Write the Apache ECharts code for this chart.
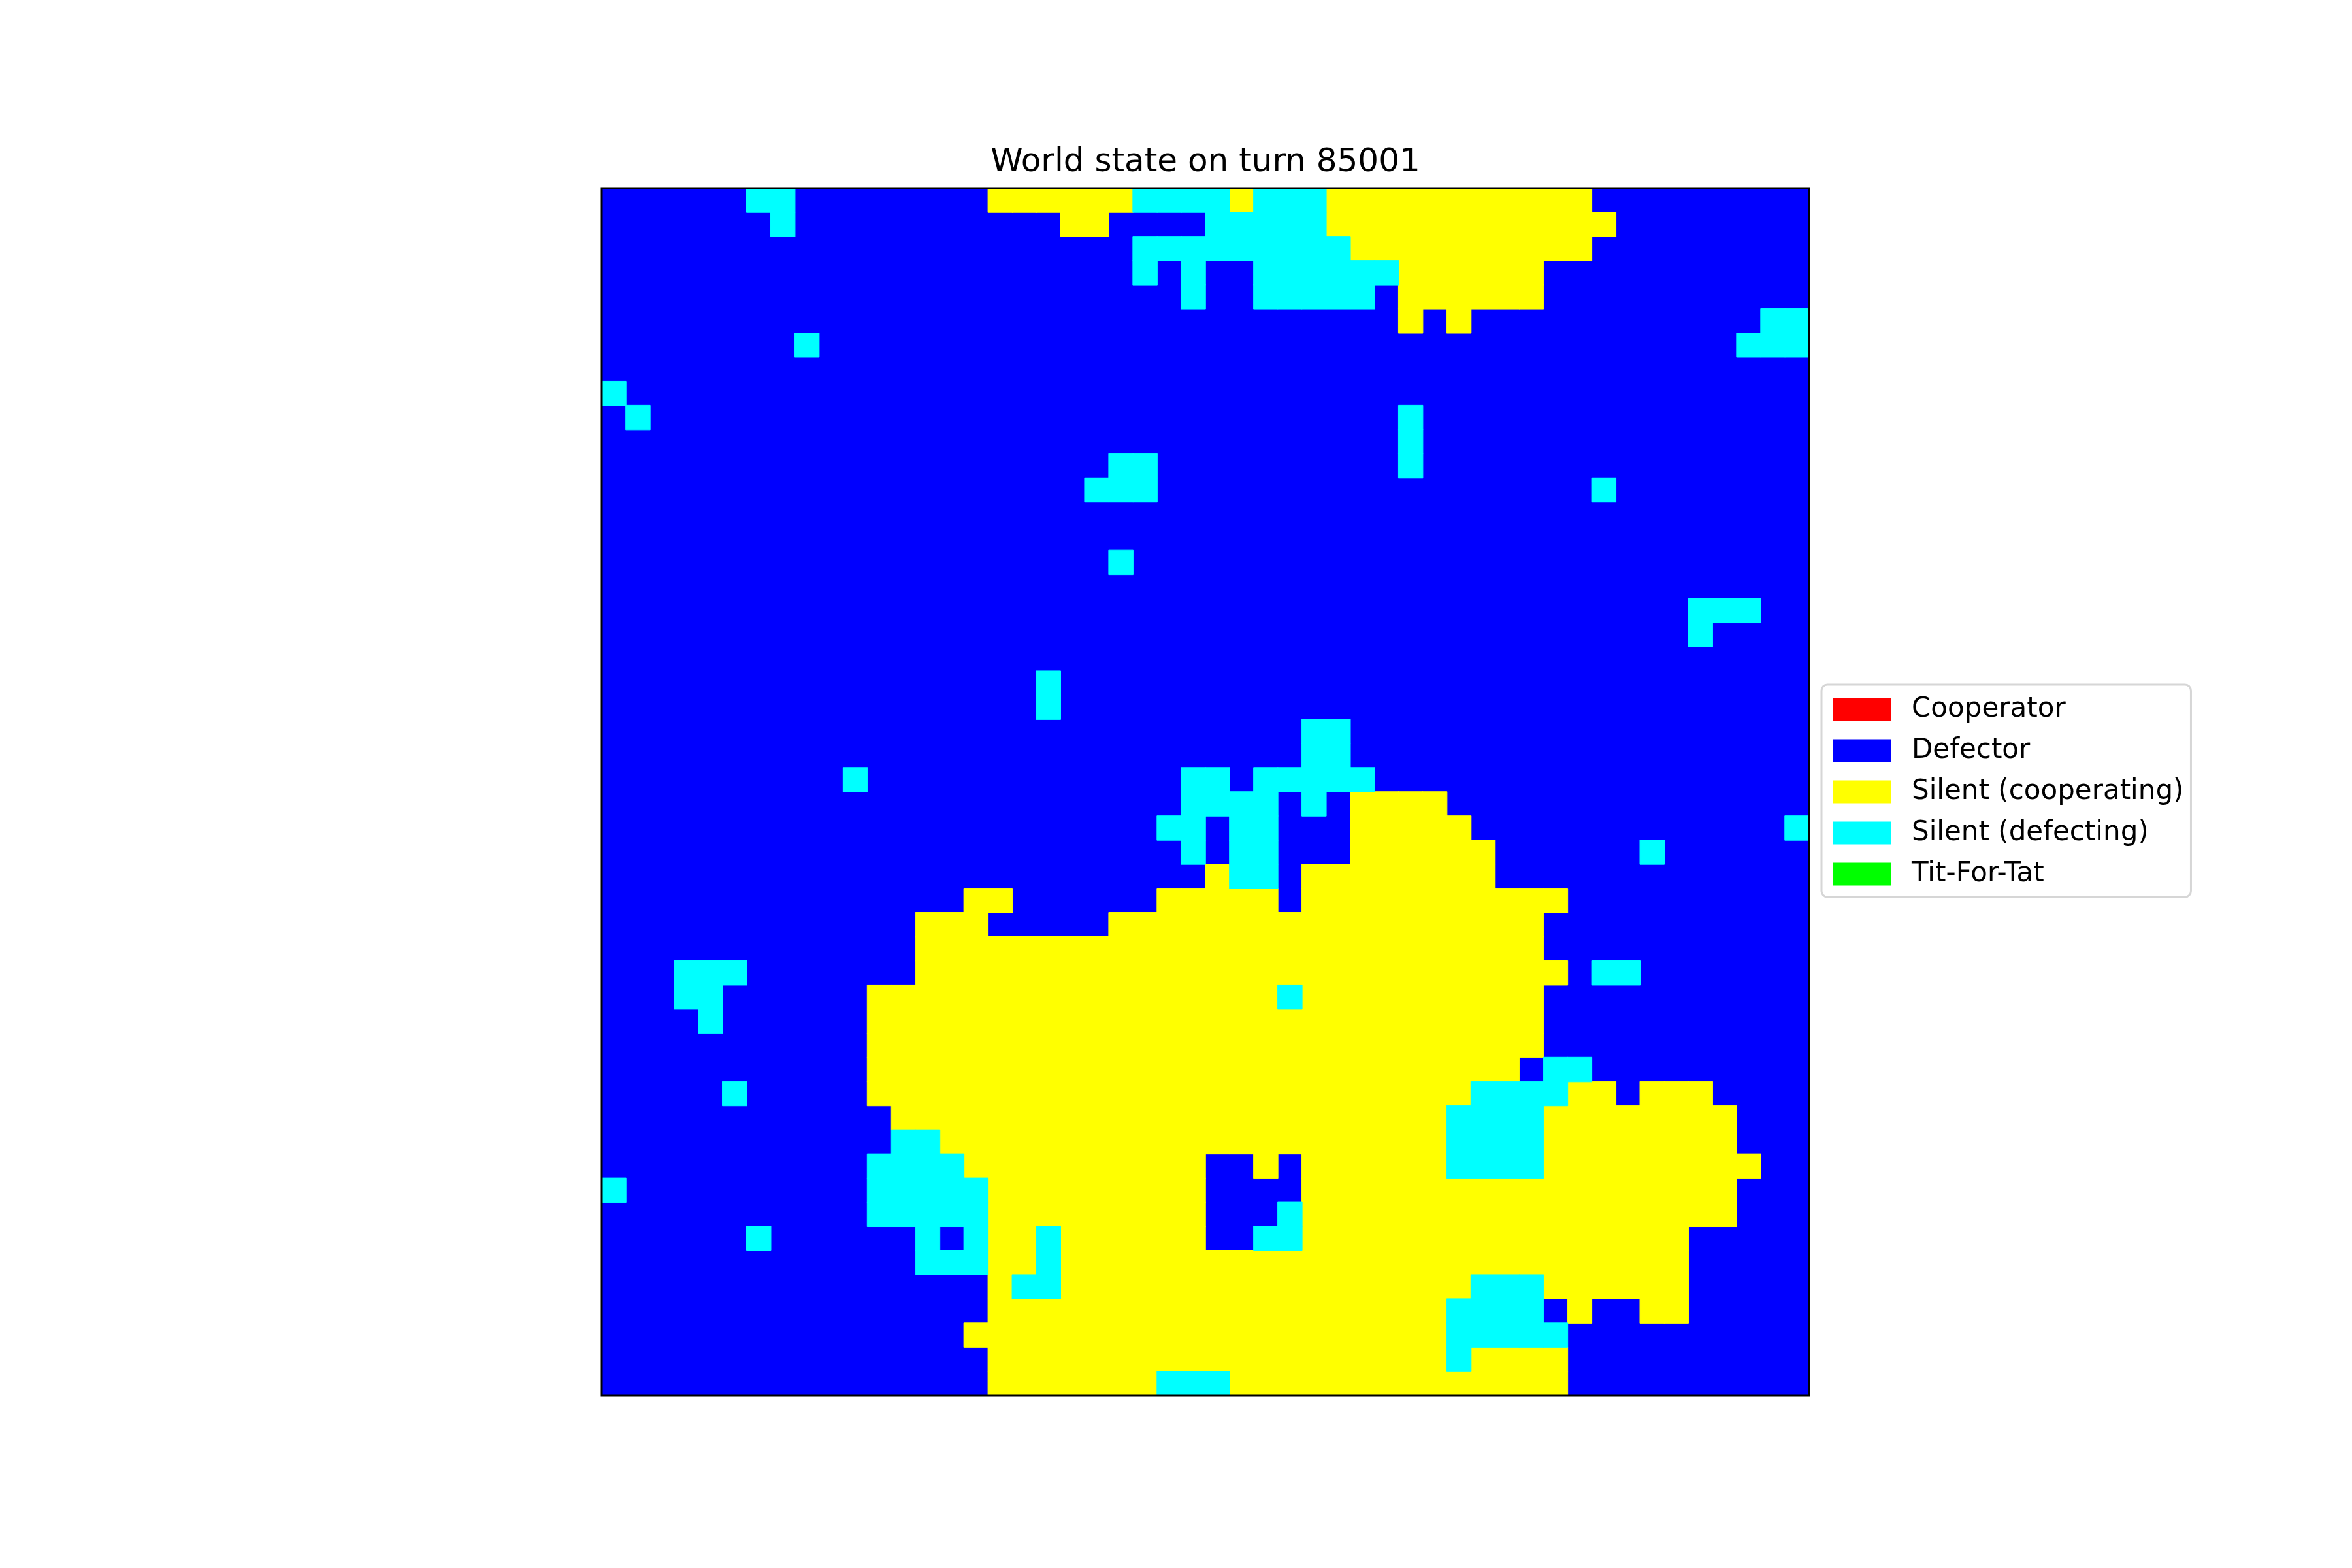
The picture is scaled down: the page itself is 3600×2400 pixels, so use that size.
<!DOCTYPE html>
<html>
<head>
<meta charset="utf-8">
<script src="https://cdn.jsdelivr.net/npm/echarts@6/dist/echarts.min.js"></script>
<style>
html,body{margin:0;padding:0;background:#fff;}
#chart{width:3600px;height:2400px;}
</style>
</head>
<body>
<div id="chart"></div>
<script>
// States (legend order)
const stateNames = ['Cooperator', 'Defector', 'Silent (cooperating)', 'Silent (defecting)', 'Tit-For-Tat'];
const stateColors = ['#ff0000', '#0000ff', '#ffff00', '#00ffff', '#00ff00'];
const gridSize = 50;
const defaultState = 1; // Defector fills everything not listed below

// Runs of Silent (cooperating) cells: [row, firstCol, lastCol]
const yellowRuns = [
  [0,16,21],[0,26,26],[0,30,40],
  [1,19,20],[1,30,41],
  [2,31,40],
  [3,33,38],
  [4,33,38],
  [5,33,33],[5,35,35],
  [25,31,34],
  [26,31,35],
  [27,31,36],
  [28,25,25],[28,29,36],
  [29,15,16],[29,23,27],[29,29,39],
  [30,13,15],[30,21,38],
  [31,13,38],
  [32,13,39],
  [33,11,27],[33,29,38],
  [34,11,38],
  [35,11,38],
  [36,11,37],
  [37,11,35],[37,40,41],[37,43,45],
  [38,12,34],[38,39,46],
  [39,14,34],[39,39,46],
  [40,15,24],[40,27,27],[40,29,34],[40,39,47],
  [41,16,24],[41,29,46],
  [42,16,24],[42,29,46],
  [43,16,17],[43,19,24],[43,29,44],
  [44,16,17],[44,19,44],
  [45,16,16],[45,19,35],[45,39,44],
  [46,16,34],[46,40,40],[46,43,44],
  [47,15,34],
  [48,16,34],[48,36,39],
  [49,16,22],[49,26,39]
];

// Runs of Silent (defecting) cells: [row, firstCol, lastCol]
const cyanRuns = [
  [0,6,7],[0,22,25],[0,27,29],
  [1,7,7],[1,25,29],
  [2,22,30],
  [3,22,22],[3,24,24],[3,27,32],
  [4,24,24],[4,27,31],
  [5,48,49],
  [6,8,8],[6,47,49],
  [8,0,0],
  [9,1,1],[9,33,33],
  [10,33,33],
  [11,21,22],[11,33,33],
  [12,20,22],[12,41,41],
  [15,21,21],
  [17,45,47],
  [18,45,45],
  [20,18,18],
  [21,18,18],
  [22,29,30],
  [23,29,30],
  [24,10,10],[24,24,25],[24,27,31],
  [25,24,27],[25,29,29],
  [26,23,24],[26,26,27],[26,49,49],
  [27,24,24],[27,26,27],[27,43,43],
  [28,26,27],
  [32,3,5],[32,41,42],
  [33,3,4],[33,28,28],
  [34,4,4],
  [36,39,40],
  [37,5,5],[37,36,39],
  [38,35,38],
  [39,12,13],[39,35,38],
  [40,11,14],[40,35,38],
  [41,0,0],[41,11,15],
  [42,11,15],[42,28,28],
  [43,6,6],[43,13,13],[43,15,15],[43,18,18],[43,27,28],
  [44,13,15],[44,18,18],
  [45,17,18],[45,36,38],
  [46,35,38],
  [47,35,39],
  [48,35,35],
  [49,23,25]
];

const titleText = 'World state on turn 85001';

// Build the world grid
const world = [];
for (let r = 0; r < gridSize; r++) {
  world.push(new Array(gridSize).fill(defaultState));
}
function applyRuns(runs, state) {
  runs.forEach(([r, c0, c1]) => {
    for (let c = c0; c <= c1; c++) world[r][c] = state;
  });
}
applyRuns(yellowRuns, 2);
applyRuns(cyanRuns, 3);

const idx = [];
for (let i = 0; i < gridSize; i++) idx.push(String(i));

const seriesData = stateNames.map(() => []);
for (let r = 0; r < gridSize; r++) {
  for (let c = 0; c < gridSize; c++) {
    seriesData[world[r][c]].push([c, r, world[r][c]]);
  }
}

const FONT = 'DejaVu Sans';
const chart = echarts.init(document.getElementById('chart'), null, {renderer: 'canvas'});

const option = {
  animation: false,
  backgroundColor: '#ffffff',
  title: {
    text: titleText,
    left: 1845,
    textAlign: 'center',
    top: 224,
    padding: 0,
    textStyle: {fontFamily: FONT, fontSize: 50, fontWeight: 'normal', color: '#000'}
  },
  grid: {
    left: 921, top: 288, width: 1848, height: 1848,
    show: true, borderColor: '#000', borderWidth: 3,
    backgroundColor: 'transparent', z: 10
  },
  xAxis: {
    type: 'category', data: idx, position: 'bottom',
    axisLine: {show: false}, axisTick: {show: false},
    axisLabel: {show: false}, splitLine: {show: false}, splitArea: {show: false}
  },
  yAxis: {
    type: 'category', data: idx, inverse: true,
    axisLine: {show: false}, axisTick: {show: false},
    axisLabel: {show: false}, splitLine: {show: false}, splitArea: {show: false}
  },
  legend: {
    data: stateNames,
    orient: 'vertical',
    left: 2788,
    top: 1048,
    padding: [17, 11, 14, 17],
    itemWidth: 87,
    itemHeight: 33,
    itemGap: 21,
    icon: 'rect',
    borderColor: '#d6d6d6',
    borderWidth: 3,
    borderRadius: 9,
    backgroundColor: '#ffffff',
    selectedMode: false,
    textStyle: {fontFamily: FONT, fontSize: 42, color: '#000', lineHeight: 33, padding: [0, 0, 0, 28]}
  },
  series: stateNames.map((name, s) => ({
    name: name,
    type: 'heatmap',
    data: seriesData[s],
    progressive: 0,
    itemStyle: {color: stateColors[s], borderColor: stateColors[s], borderWidth: 1},
    emphasis: {disabled: true}
  }))
};
chart.setOption(option);
</script>
</body>
</html>
